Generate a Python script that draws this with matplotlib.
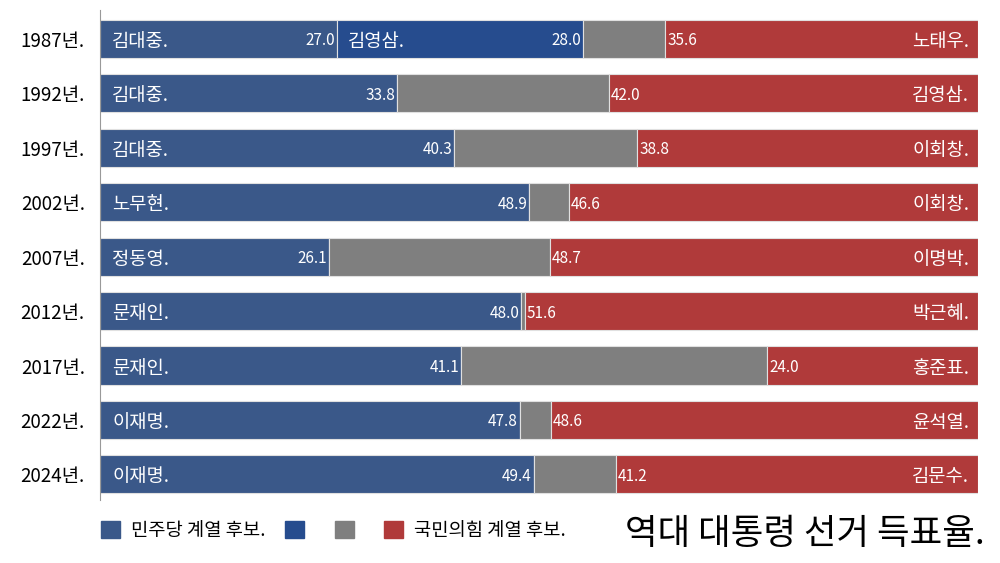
import matplotlib
matplotlib.use('Agg')
import matplotlib.pyplot as plt
from matplotlib.patches import Patch

plt.rcParams['font.family'] = ['Noto Sans CJK KR', 'DejaVu Sans']

years = ['1987년.', '1992년.', '1997년.', '2002년.', '2007년.', '2012년.', '2017년.', '2022년.', '2024년.']
dem_names = ['김대중.', '김대중.', '김대중.', '노무현.', '정동영.', '문재인.', '문재인.', '이재명.', '이재명.']
dem_vals = [27.0, 33.8, 40.3, 48.9, 26.1, 48.0, 41.1, 47.8, 49.4]
# 1987 only: second democratic-line candidate
extra_name = '김영삼.'
extra_vals = [28.0, 0, 0, 0, 0, 0, 0, 0, 0]
other_vals = [9.4, 24.2, 20.9, 4.5, 25.2, 0.4, 34.9, 3.6, 9.4]
con_names = ['노태우.', '김영삼.', '이회창.', '이회창.', '이명박.', '박근혜.', '홍준표.', '윤석열.', '김문수.']
con_vals = [35.6, 42.0, 38.8, 46.6, 48.7, 51.6, 24.0, 48.6, 41.2]

c_dem = '#3a5889'
c_extra = '#264c8e'
c_other = '#7f7f7f'
c_con = '#b03a3a'

fig = plt.figure(figsize=(10, 5.63), dpi=100)
ax = fig.add_axes([0.1, 0.112, 0.878, 0.87])

y = list(range(len(years)))
h = 0.7
ek = dict(edgecolor='#e0e0e0', linewidth=0.8, height=h)

left = [0] * len(y)
ax.barh(y, dem_vals, left=left, color=c_dem, **ek)
left = [a + b for a, b in zip(left, dem_vals)]
ax.barh(y, extra_vals, left=left, color=c_extra, **ek)
left = [a + b for a, b in zip(left, extra_vals)]
ax.barh(y, other_vals, left=left, color=c_other, **ek)
left = [a + b for a, b in zip(left, other_vals)]
ax.barh(y, con_vals, left=left, color=c_con, **ek)

name_fs = 13.5
num_fs = 11
for i in y:
    ax.text(1.4, i, dem_names[i], color='white', fontsize=name_fs, va='center_baseline', ha='left')
    ax.text(dem_vals[i] - 0.2, i, f'{dem_vals[i]:.1f}', color='white', fontsize=num_fs,
            va='center_baseline', ha='right')
    if extra_vals[i] > 0:
        ax.text(dem_vals[i] + 1.2, i, extra_name, color='white', fontsize=name_fs, va='center_baseline', ha='left')
        ax.text(dem_vals[i] + extra_vals[i] - 0.2, i, f'{extra_vals[i]:.1f}', color='white', fontsize=num_fs,
                va='center_baseline', ha='right')
    start = 100 - con_vals[i]
    ax.text(start + 0.2, i, f'{con_vals[i]:.1f}', color='white', fontsize=num_fs, va='center_baseline', ha='left')
    ax.text(99.0, i, con_names[i], color='white', fontsize=name_fs, va='center_baseline', ha='right')

ax.set_xlim(0, 100)
ax.set_ylim(8.47, -0.53)
ax.set_yticks(y)
ax.set_yticklabels(years, fontsize=13.5, va='center_baseline')
ax.tick_params(axis='y', length=0, pad=11)
ax.set_xticks([])
for s in ['top', 'right', 'bottom']:
    ax.spines[s].set_visible(False)
ax.spines['left'].set_color('#999999')
ax.spines['left'].set_linewidth(0.8)

handles = [Patch(color=c_dem), Patch(color=c_extra), Patch(color=c_other), Patch(color=c_con)]
labels = ['민주당 계열 후보.', '', '', '국민의힘 계열 후보.']
fig.legend(handles, labels, loc='center left', bbox_to_anchor=(0.084, 0.058), ncol=4, frameon=False,
           fontsize=13.5, handlelength=1.0, handleheight=1.0, handletextpad=0.6, columnspacing=1.05)

fig.text(0.985, 0.058, '역대 대통령 선거 득표율.', fontsize=25.5, ha='right', va='center_baseline')

plt.savefig('out.png', dpi=100)
